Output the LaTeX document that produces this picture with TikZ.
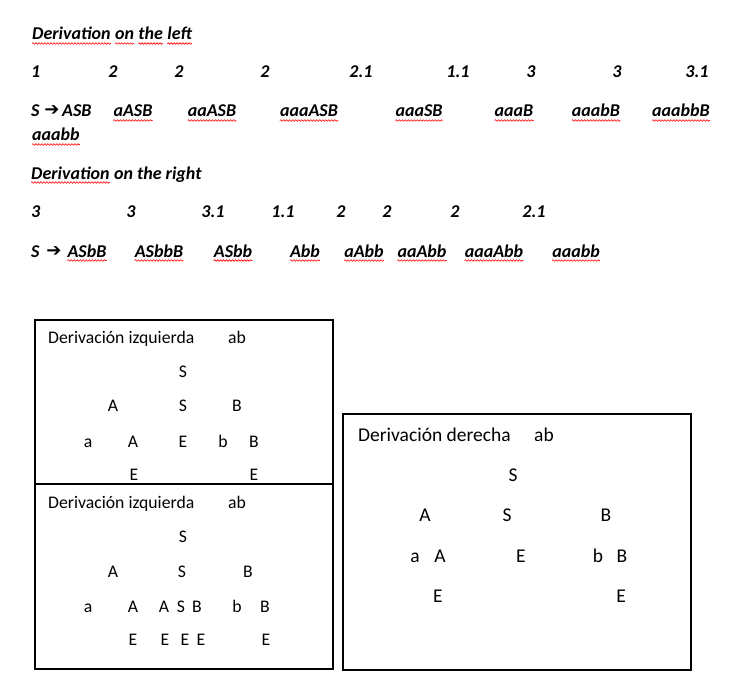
\documentclass[tikz,border=0pt]{standalone}
\usepackage{fontspec}
\setmainfont{Carlito}
\newfontfamily\arrfont{DejaVu Sans}
\usetikzlibrary{decorations.pathmorphing}
\tikzset{
 tt/.style={inner sep=0pt, font=\fontsize{18}{20}\selectfont\bfseries\itshape, anchor=base},
 ttl/.style={tt, anchor=base west},
 arrw/.style={inner sep=0pt, font=\arrfont\bfseries\fontsize{18}{18}\selectfont, anchor=base},
 bx/.style={draw=black, line width=1.2pt},
 ta/.style={inner sep=0pt, font=\fontsize{17.7}{20}\selectfont, anchor=base},
 tal/.style={ta, anchor=base west},
 tb/.style={inner sep=0pt, font=\fontsize{19.5}{22}\selectfont, anchor=base},
 tbl/.style={tb, anchor=base west},
 squig/.style={draw=red, line width=0.6pt, decorate, decoration={snake, amplitude=0.8pt, segment length=3pt}},
}
\newcommand\sqg[1]{\draw[squig] ([yshift=-3.5pt]#1.base west) -- ([yshift=-3.5pt]#1.base east);}
\begin{document}
\begin{tikzpicture}[x=1pt,y=-1pt]
\useasboundingbox[fill=white] (0,0) rectangle (735,687);
% ---------- Derivation on the left ----------
\node[ttl] (d1) at (32,40) {Derivation};
\node[ttl] (d2) at ([xshift=4pt]d1.base east) {on};
\node[ttl] (d3) at ([xshift=4pt]d2.base east) {the};
\node[ttl] (d4) at ([xshift=4pt]d3.base east) {left};
\foreach \n in {d1,d2,d3,d4}{\sqg{\n}}
\node[ttl] (n1) at (31,78) {1};
\node[tt] (n2) at (113,78) {2};
\node[tt] (n3) at (179,78) {2};
\node[tt] (n4) at (265,78) {2};
\node[tt] (n5) at (361,78) {2.1};
\node[tt] (n6) at (458,78) {1.1};
\node[tt] (n7) at (531,78) {3};
\node[tt] (n8) at (617,78) {3};
\node[tt] (n9) at (697,78) {3.1};
\node[ttl] (s0) at (31,117) {S};
\node[arrw] (s1) at (52,116) {➔};
\node[ttl] (w0) at (62,117) {ASB};
\node[tt] (w1) at (133,117) {aASB};
\node[tt] (w2) at (212,117) {aaASB};
\node[tt] (w3) at (309,117) {aaaASB};
\node[tt] (w4) at (419,117) {aaaSB};
\node[tt] (w5) at (514,117) {aaaB};
\node[tt] (w6) at (596,117) {aaabB};
\node[tt] (w7) at (681,117) {aaabbB};
\node[ttl] (w8) at (32,141) {aaabb};
\foreach \n in {w1,w2,w3,w4,w5,w6,w7,w8}{\sqg{\n}}
% ---------- Derivation on the right ----------
\node[ttl] (r1) at (31,179) {Derivation};
\node[ttl] (r2) at ([xshift=4pt]r1.base east) {on the right};
\sqg{r1}
\node[ttl] (m1) at (31,217) {3};
\node[tt] (m2) at (131,217) {3};
\node[tt] (m3) at (213,217) {3.1};
\node[tt] (m4) at (283,217) {1.1};
\node[tt] (m5) at (341,217) {2};
\node[tt] (m6) at (387,217) {2};
\node[tt] (m7) at (455,217) {2};
\node[tt] (m8) at (534,217) {2.1};
\node[ttl] (u0) at (31,257) {S};
\node[arrw] (u1) at (54,256) {➔};
\node[tt] (v1) at (87,257) {ASbB};
\node[tt] (v2) at (159,257) {ASbbB};
\node[tt] (v3) at (233,257) {ASbb};
\node[tt] (v4) at (305,257) {Abb};
\node[tt] (v5) at (364,257) {aAbb};
\node[tt] (v6) at (422,257) {aaAbb};
\node[tt] (v7) at (494,257) {aaaAbb};
\node[tt] (v8) at (576,257) {aaabb};
\foreach \n in {v1,v2,v3,v4,v5,v6,v7,v8}{\sqg{\n}}
% ---------- boxes ----------
\draw[bx] (35,320) rectangle (333,484);
\draw[bx] (35,484) rectangle (333,669);
\draw[bx] (343,414) rectangle (691,670);
% box 1
\node[tal] (a0) at (48,343) {Derivación izquierda};
\node[ta] (a1) at (237,343) {ab};
\node[ta] (a2) at (183,377) {S};
\node[ta] (a3) at (113,411) {A};
\node[ta] (a4) at (183,411) {S};
\node[ta] (a5) at (237,411) {B};
\node[ta] (a6) at (88,447) {a};
\node[ta] (a7) at (133,447) {A};
\node[ta] (a8) at (183,447) {E};
\node[ta] (a9) at (223,447) {b};
\node[ta] (a10) at (254,447) {B};
\node[ta] (a11) at (134,480) {E};
\node[ta] (a12) at (254,480) {E};
% box 2
\node[tal] (b0) at (48,508) {Derivación izquierda};
\node[ta] (b1) at (237,508) {ab};
\node[ta] (b2) at (183,542) {S};
\node[ta] (b3) at (113,577) {A};
\node[ta] (b4) at (182,577) {S};
\node[ta] (b5) at (248,577) {B};
\node[ta] (b6) at (88,612) {a};
\node[ta] (b7) at (133,612) {A};
\node[ta] (b8) at (164,612) {A};
\node[ta] (b9) at (181,612) {S};
\node[ta] (b10) at (197,612) {B};
\node[ta] (b11) at (237,612) {b};
\node[ta] (b12) at (265,612) {B};
\node[ta] (b13) at (133,645) {E};
\node[ta] (b14) at (165,645) {E};
\node[ta] (b15) at (185,645) {E};
\node[ta] (b16) at (201,645) {E};
\node[ta] (b17) at (266,645) {E};
% box 3
\node[tbl] (c0) at (358,441) {Derivación derecha};
\node[tb] (c1) at (544,441) {ab};
\node[tb] (c2) at (513,481) {S};
\node[tb] (c3) at (425,521) {A};
\node[tb] (c4) at (507,521) {S};
\node[tb] (c5) at (606,521) {B};
\node[tb] (c6) at (415,562) {a};
\node[tb] (c7) at (440,562) {A};
\node[tb] (c8) at (521,562) {E};
\node[tb] (c9) at (598,562) {b};
\node[tb] (c10) at (622,562) {B};
\node[tb] (c11) at (438,602) {E};
\node[tb] (c12) at (621,602) {E};
\end{tikzpicture}
\end{document}
